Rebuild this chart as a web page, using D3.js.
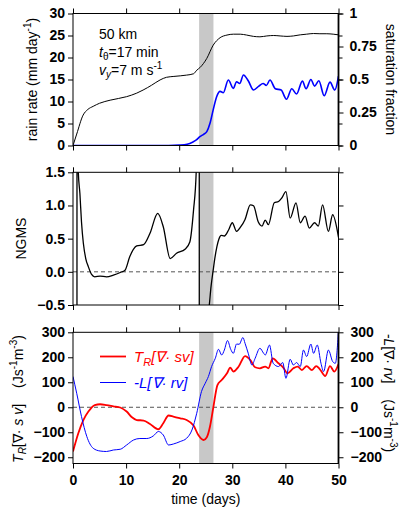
<!DOCTYPE html>
<html><head><meta charset="utf-8">
<script src="https://cdn.jsdelivr.net/npm/d3@7"></script>
<style>
body{margin:0;background:#fff}
svg{display:block}
text{font-family:"Liberation Sans",Arial,Helvetica,sans-serif}
</style>
</head><body>
<svg id="c" width="404" height="510"></svg>
<script>
// ---------- data ----------
const xTicks = [0,10,20,30,40,50];
const bandDays = [23.75, 26.45];

// panel 1: rain rate (left axis)
const rainDay = [0,0.7,1.9,2.8,3.8,5,7,10.1,12,13.2,14.8,16.4,17.6,19,21.4,22.7,23.3,23.9,25.2,26.4,27.7,29,30.2,31.5,32.7,34,35.2,36.5,37.8,39,40.3,41.5,42.8,44,45.3,46.5,47.8,49,50];
const rainVal = [0,2.6,6.9,8.2,8.9,9.6,10.3,11.1,11.9,12.6,13.7,14.9,15.5,15.7,16,16.3,17.1,17.7,19.8,22.8,24.5,25.1,25.3,25.3,25.1,24.8,24.7,24.9,25,24.9,24.8,24.9,25.15,25.3,25.45,25.4,25.4,25.3,25.15];
// panel 1: saturation fraction (right axis)
const satDay = [0,18,20,21.5,22.5,23.3,23.9,24.6,25.2,25.8,26.4,27.05,27.7,28.3,29.25,30.2,30.8,31.4,32.1,33,34,35,35.8,36.4,37.1,38.1,39.2,40.2,41.2,42.1,43.2,43.9,44.8,45.5,46.3,47.3,48.4,49.3,50];
const satVal = [0,0,0.003,0.01,0.025,0.045,0.067,0.085,0.105,0.168,0.27,0.37,0.41,0.40,0.496,0.433,0.483,0.47,0.534,0.49,0.42,0.45,0.47,0.455,0.496,0.43,0.42,0.35,0.43,0.39,0.488,0.43,0.5,0.45,0.49,0.377,0.48,0.42,0.525];

// panel 2: NGMS
const ngmsDay = [0,0.74,0.76,0.88,1.0,1.3,1.6,1.95,2.4,2.9,3.5,4.1,5.1,6.3,7.6,8.9,9.8,10.7,12,13.3,14.5,15.95,17,18.3,19.5,21.1,22,22.7,23.2,23.5,23.76,23.8,24.5,25,25.67,26.0,26.4,26.7,27.1,27.5,27.9,28.5,29.3,30,30.8,31.6,32.4,33.4,34,34.9,35.6,36.2,36.8,37.9,38.7,39.3,40.1,40.9,42,42.8,43.7,44.5,45.5,46.2,47,48.1,48.9,50];
const ngmsVal = [-3,-6,9,2.5,1.5,1.18,0.75,0.43,0.2,0.075,-0.04,-0.075,-0.065,-0.075,-0.05,-0.01,0.025,0.23,0.39,0.41,0.58,0.88,0.68,0.2,0.28,0.34,0.45,0.93,1.5,3,9,-9,-2,-1,-0.5,-0.22,0.025,0.2,0.38,0.5,0.55,0.54,0.63,0.74,0.61,0.68,0.79,1.01,0.995,0.75,0.69,0.78,0.71,1.04,1.06,1.11,1.21,0.81,1.04,0.74,0.84,0.66,0.74,0.69,1.01,0.61,0.86,0.52];

// panel 3: T_R[div sv] (red, left axis)
const svDay = [0,1,1.95,2.9,4.1,5.1,6.3,7.6,8.9,10.1,11.1,12,13.3,14.5,16.1,17,18,18.9,20.2,21.4,22.7,23.6,24.6,25.2,25.8,26.4,27.2,28,29,29.6,30.2,31.2,32.4,33.4,34.3,35.2,36.2,36.8,37.6,38.7,39.6,40.4,41.5,42.3,43.1,44,45,45.8,46.5,47.5,48.4,49.2,50];
const svVal = [-177,-104,-51,-17,9,12,9,4,-1,-17,-40,-51,-53,-67,-88,-64,-33,-37,-44,-51,-73,-111,-131,-120,-77,-4,89,109,136,159,143,163,205,189,160,156,163,156,196,176,159,136,156,163,149,165,149,165,152,125,165,143,173];
// panel 3: -L[div rv] (blue, right axis)
const rvDay = [0,0.7,1.6,2.6,3.8,5.1,6.3,7.6,8.9,10.1,11.4,12.6,13.9,15.1,16.1,17,18,18.9,20.2,21.4,22.4,23.3,24.2,24.9,25.5,26.1,26.8,27.4,28,28.5,29.1,29.7,30.2,30.8,31.3,32,32.4,33,33.7,34.3,35.2,35.9,36.2,37,37.7,38.7,39.5,40.1,40.9,41.5,42.1,42.8,43.4,44,44.8,45.3,46,46.7,47.2,48.1,48.9,49.4,50];
const rvVal = [123,56,-37,-117,-164,-175,-177,-171,-168,-151,-131,-125,-125,-115,-97,-111,-151,-147,-137,-124,-91,-24,63,96,123,163,196,232,209,229,267,232,216,253,252,279,256,216,169,196,236,216,209,249,176,163,179,116,192,169,179,163,229,203,253,216,249,176,143,229,183,176,309];

const rainTicks = [0,5,10,15,20,25,30];
const satTicks = [0,0.25,0.5,0.75,1];
const satLabels = ["0","0.25","0.5","0.75","1"];
const ngmsTicks = [-0.5,0,0.5,1,1.5];
const fluxTicks = [-200,-100,0,100,200,300];

// ---------- layout ----------
const svg = d3.select('#c');
const X0 = 73, X1 = 338.5;
const x = d3.scaleLinear().domain([0,50]).range([X0,X1]);
const P1 = [13.5,145.5], P2 = [172.3,305], P3 = [332.3,463.5];
const yRain = d3.scaleLinear().domain([0,30]).range([P1[1],P1[0]]);
const ySat  = d3.scaleLinear().domain([0,1]).range([P1[1],P1[0]]);
const yN    = d3.scaleLinear().domain([-0.5,1.5]).range([P2[1],P2[0]]);
const yF    = d3.scaleLinear().domain([-225,300]).range([P3[1],P3[0]]);

const defs = svg.append('defs');
function clip(id,P){
  defs.append('clipPath').attr('id',id).append('rect')
    .attr('x',X0).attr('y',P[0]).attr('width',X1-X0).attr('height',P[1]-P[0]);
}
clip('c1',P1); clip('c2',P2); clip('c3',P3);

function band(P){
  svg.append('rect').attr('x',x(bandDays[0])).attr('y',P[0])
    .attr('width',x(bandDays[1])-x(bandDays[0])).attr('height',P[1]-P[0])
    .attr('fill','#c8c8c8');
}
function zeroLine(y){
  svg.append('line').attr('x1',X0).attr('x2',X1).attr('y1',y).attr('y2',y)
    .attr('stroke','#555').attr('stroke-width',1).attr('stroke-dasharray','4,3');
}
function series(days,vals,yS,clipId,color,w){
  const pts = days.map((d,i)=>[d,vals[i]]);
  const line = d3.line().x(d=>x(d[0])).y(d=>yS(d[1])).curve(d3.curveMonotoneX);
  svg.append('path').attr('d',line(pts)).attr('fill','none')
    .attr('stroke',color).attr('stroke-width',w).attr('stroke-linejoin','round')
    .attr('clip-path','url(#'+clipId+')');
}
function styleAxis(g){
  g.select('.domain').remove();
  g.selectAll('line').attr('stroke','#000').attr('stroke-width',1);
  g.selectAll('text').attr('font-size',14).attr('fill','#000').attr('font-weight','bold')
    .attr('font-family','"Liberation Sans",Arial,sans-serif');
}
function frame(P,rightWide){
  svg.append('rect').attr('x',X0).attr('y',P[0]).attr('width',X1-X0).attr('height',P[1]-P[0])
    .attr('fill','none').attr('stroke','#000').attr('stroke-width',1);
  if(rightWide){
    svg.append('line').attr('x1',X1).attr('x2',X1).attr('y1',P[0]).attr('y2',P[1])
      .attr('stroke','#000').attr('stroke-width',1.8);
  }
  svg.append('g').attr('transform',`translate(0,${P[0]})`)
    .call(d3.axisTop(x).tickValues(xTicks).tickSize(5).tickFormat('')).call(styleAxis);
}

// ---------- panel 1 ----------
band(P1);
series(rainDay,rainVal,yRain,'c1','#000',1);
series(satDay,satVal,ySat,'c1','#0000ff',1.6);
frame(P1,true);
svg.append('g').attr('transform',`translate(${X0},0)`)
  .call(d3.axisLeft(yRain).tickValues(rainTicks).tickSize(5).tickPadding(3)).call(styleAxis);
svg.append('g').attr('transform',`translate(${X1},0)`)
  .call(d3.axisLeft(yRain).tickValues(rainTicks).tickSize(-4).tickFormat('')).call(styleAxis);
svg.append('g').attr('transform',`translate(${X1},0)`)
  .call(d3.axisRight(ySat).tickValues(satTicks).tickSize(5).tickPadding(6)
  .tickFormat((d,i)=>satLabels[i])).call(styleAxis);
svg.append('g').attr('transform',`translate(0,${P1[1]})`)
  .call(d3.axisBottom(x).tickValues(xTicks).tickSize(5).tickFormat('')).call(styleAxis);

// annotation
const ann = svg.append('g').attr('font-size',14).attr('fill','#000');
ann.append('text').attr('x',99).attr('y',39).text('50 km');
const t2 = ann.append('text').attr('x',99).attr('y',57);
t2.append('tspan').attr('font-style','italic').text('t');
t2.append('tspan').attr('font-size',10).attr('dy',3).text('θ');
t2.append('tspan').attr('dy',-3).text('=17 min');
const t3 = ann.append('text').attr('x',99).attr('y',75);
t3.append('tspan').attr('font-style','italic').text('v');
t3.append('tspan').attr('font-style','italic').attr('font-size',10).attr('dy',3).text('y');
t3.append('tspan').attr('dy',-3).text('=7 m s');
t3.append('tspan').attr('font-size',10).attr('dy',-6).text('-1');

// axis labels panel 1
const l1 = svg.append('text').attr('transform','translate(37,79.5) rotate(-90)')
  .attr('text-anchor','middle').attr('font-size',14);
l1.append('tspan').text('rain rate (mm day');
l1.append('tspan').attr('font-size',10).attr('dy',-6).text('-1');
l1.append('tspan').attr('dy',6).text(')');
svg.append('text').attr('transform','translate(386,79.5) rotate(90)')
  .attr('text-anchor','middle').attr('font-size',14).text('saturation fraction');

// ---------- panel 2 ----------
band(P2);
zeroLine(yN(0));
series(ngmsDay,ngmsVal,yN,'c2','#000',1.3);
frame(P2,false);
svg.append('g').attr('transform',`translate(${X0},0)`)
  .call(d3.axisLeft(yN).tickValues(ngmsTicks).tickSize(5).tickPadding(3)).call(styleAxis);
svg.append('g').attr('transform',`translate(${X1},0)`)
  .call(d3.axisRight(yN).tickValues(ngmsTicks).tickSize(5).tickFormat('')).call(styleAxis);
svg.append('g').attr('transform',`translate(0,${P2[1]})`)
  .call(d3.axisBottom(x).tickValues(xTicks).tickSize(5).tickFormat('')).call(styleAxis);
svg.append('text').attr('transform','translate(26,238.6) rotate(-90)')
  .attr('text-anchor','middle').attr('font-size',14).text('NGMS');

// ---------- panel 3 ----------
band(P3);
zeroLine(yF(0));
series(svDay,svVal,yF,'c3','#ff0000',1.8);
series(rvDay,rvVal,yF,'c3','#0000ff',1);
frame(P3,true);
svg.append('g').attr('transform',`translate(${X0},0)`)
  .call(d3.axisLeft(yF).tickValues(fluxTicks).tickSize(5).tickPadding(3)).call(styleAxis);
svg.append('g').attr('transform',`translate(${X1},0)`)
  .call(d3.axisRight(yF).tickValues(fluxTicks).tickSize(5).tickPadding(7)).call(styleAxis);
svg.append('g').attr('transform',`translate(0,${P3[1]})`)
  .call(d3.axisBottom(x).tickValues(xTicks).tickSize(5).tickPadding(7)).call(styleAxis);
svg.append('text').attr('x',(X0+X1)/2).attr('y',504).attr('text-anchor','middle')
  .attr('font-size',14).text('time (days)');

// legend
const lg = svg.append('g');
lg.append('line').attr('x1',100).attr('x2',126).attr('y1',356.5).attr('y2',356.5)
  .attr('stroke','#ff0000').attr('stroke-width',1.8);
const lt1 = lg.append('text').attr('x',134).attr('y',362).attr('font-size',15)
  .attr('fill','#ff0000').attr('font-style','italic');
lt1.append('tspan').text('T');
lt1.append('tspan').attr('font-size',11).attr('dy',4).text('R');
lt1.append('tspan').attr('dy',-4).text('[∇· sv]');
lg.append('line').attr('x1',100).attr('x2',126).attr('y1',382.5).attr('y2',382.5)
  .attr('stroke','#0000ff').attr('stroke-width',1);
lg.append('text').attr('x',134).attr('y',388).attr('font-size',15)
  .attr('fill','#0000ff').attr('font-style','italic').text('-L[∇· rv]');

// axis labels panel 3
const l3 = svg.append('text').attr('transform','translate(23,399) rotate(-90)')
  .attr('text-anchor','middle').attr('font-size',14);
l3.append('tspan').attr('font-style','italic').text('T');
l3.append('tspan').attr('font-style','italic').attr('font-size',10).attr('dy',3).text('R');
l3.append('tspan').attr('dy',-3).text('[∇· ');
l3.append('tspan').attr('font-style','italic').text('s v');
l3.append('tspan').text(']');
l3.append('tspan').attr('dx',16).text('(Js');
l3.append('tspan').attr('font-size',10).attr('dy',-6).text('-1');
l3.append('tspan').attr('dy',6).text('m');
l3.append('tspan').attr('font-size',10).attr('dy',-6).text('-3');
l3.append('tspan').attr('dy',6).text(')');

const r3 = svg.append('text').attr('transform','translate(384,393) rotate(90)')
  .attr('text-anchor','middle').attr('font-size',14);
r3.append('tspan').attr('font-style','italic').text('-L');
r3.append('tspan').text('[∇· ');
r3.append('tspan').attr('font-style','italic').text('rv');
r3.append('tspan').text(']');
r3.append('tspan').attr('dx',16).text('(Js');
r3.append('tspan').attr('font-size',10).attr('dy',-6).text('-1');
r3.append('tspan').attr('dy',6).text('m');
r3.append('tspan').attr('font-size',10).attr('dy',-6).text('-3');
r3.append('tspan').attr('dy',6).text(')');
</script>
</body></html>
